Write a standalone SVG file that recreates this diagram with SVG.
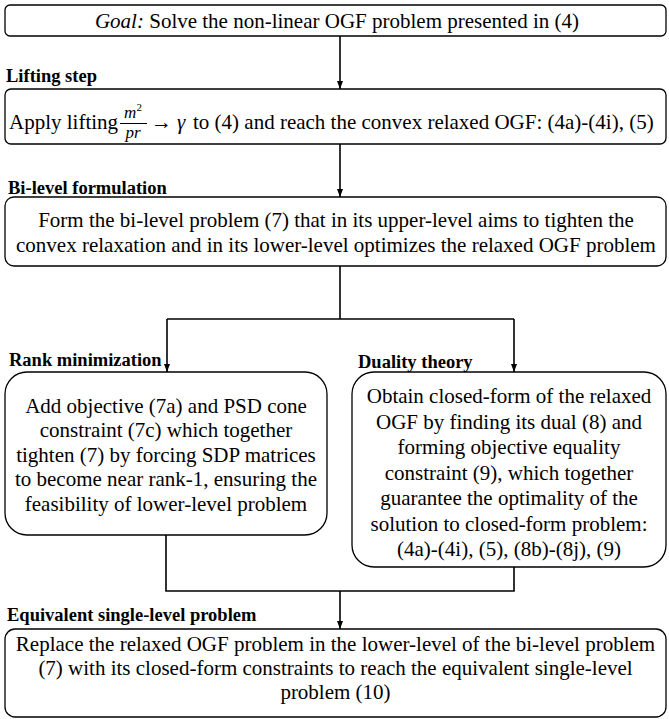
<svg xmlns="http://www.w3.org/2000/svg" width="669" height="719" viewBox="0 0 669 719">
<defs>
<style>
.box{fill:#fff;stroke:#000;stroke-width:1.3}
.t{font-family:"Liberation Serif","Times New Roman",serif;font-size:21px;fill:#000}
.c{text-anchor:middle}
.lbl{font-family:"Liberation Serif","Times New Roman",serif;font-size:18.5px;font-weight:bold;fill:#000}
.m{font-family:"Liberation Serif","DejaVu Serif",serif;font-style:italic;fill:#000}
.con{fill:none;stroke:#000;stroke-width:1.6}
</style>
<marker id="ah" markerUnits="userSpaceOnUse" markerWidth="8" markerHeight="8" refX="8" refY="3" orient="auto">
<path d="M0,0 L8,3 L0,6 z" fill="#000"/>
</marker>
</defs>
<rect width="669" height="719" fill="#fff"/>
<g id="connectors">
<line class="con" x1="340" y1="36" x2="340" y2="89" marker-end="url(#ah)"/>
<line class="con" x1="340" y1="144" x2="340" y2="197" marker-end="url(#ah)"/>
<polyline class="con" points="340,266 340,319"/>
<polyline class="con" points="167,319 514,319"/>
<line class="con" x1="167" y1="319" x2="167" y2="372" marker-end="url(#ah)"/>
<line class="con" x1="514" y1="319" x2="514" y2="372" marker-end="url(#ah)"/>
<polyline class="con" points="166,535 166,591 514,591 514,567"/>
<line class="con" x1="340" y1="591" x2="340" y2="629" marker-end="url(#ah)"/>
</g>
<g id="goal">
<rect class="box" x="5" y="5" width="661" height="31" rx="5"/>
<text class="t c" x="337" y="28"><tspan font-style="italic">Goal:</tspan> Solve the non-linear OGF problem presented in (4)</text>
</g>
<g id="lifting">
<text class="lbl" x="6" y="82">Lifting step</text>
<rect class="box" x="5" y="89" width="661" height="55" rx="6"/>
<text class="t" x="9" y="129">Apply lifting</text>
<text class="m" x="133" y="118" font-size="17" text-anchor="middle">m<tspan font-size="11" dy="-7" font-style="normal">2</tspan></text>
<line x1="120" y1="123.5" x2="147" y2="123.5" stroke="#000" stroke-width="1"/>
<text class="m" x="133" y="138" font-size="17" text-anchor="middle">pr</text>
<text class="t" x="151" y="129">→</text>
<text class="t" x="177" y="129" font-style="italic">γ</text>
<text class="t" x="193" y="129" font-size="21.3">to (4) and reach the convex relaxed OGF: (4a)-(4i), (5)</text>
</g>
<g id="bilevel">
<text class="lbl" x="8" y="194">Bi-level formulation</text>
<rect class="box" x="5" y="197" width="661" height="69" rx="9"/>
<text class="t c" x="336" y="227">Form the bi-level problem (7) that in its upper-level aims to tighten the</text>
<text class="t c" x="336" y="252">convex relaxation and in its lower-level optimizes the relaxed OGF problem</text>
</g>
<g id="rank">
<text class="lbl" x="9" y="366">Rank minimization</text>
<rect class="box" x="5" y="372" width="322" height="163" rx="22"/>
<text class="t c" x="166" y="412.5">Add objective (7a) and PSD cone</text>
<text class="t c" x="166" y="437">constraint (7c) which together</text>
<text class="t c" x="166" y="461.5">tighten (7) by forcing SDP matrices</text>
<text class="t c" x="166" y="486">to become near rank-1, ensuring the</text>
<text class="t c" x="166" y="510.5">feasibility of lower-level problem</text>
</g>
<g id="duality">
<text class="lbl" x="358" y="368">Duality theory</text>
<rect class="box" x="352" y="372" width="314" height="195" rx="22"/>
<text class="t c" x="509" y="403">Obtain closed-form of the relaxed</text>
<text class="t c" x="509" y="428.5">OGF by finding its dual (8) and</text>
<text class="t c" x="509" y="454">forming objective equality</text>
<text class="t c" x="509" y="479.5">constraint (9), which together</text>
<text class="t c" x="509" y="505">guarantee the optimality of the</text>
<text class="t c" x="509" y="530.5">solution to closed-form problem:</text>
<text class="t c" x="509" y="556">(4a)-(4i), (5), (8b)-(8j), (9)</text>
</g>
<g id="single">
<text class="lbl" x="7" y="621">Equivalent single-level problem</text>
<rect class="box" x="5" y="629" width="661" height="88" rx="10"/>
<text class="t c" x="335.5" y="651" font-size="21.3">Replace the relaxed OGF problem in the lower-level of the bi-level problem</text>
<text class="t c" x="335.5" y="675" font-size="21.3">(7) with its closed-form constraints to reach the equivalent single-level</text>
<text class="t c" x="335.5" y="699" font-size="21.3">problem (10)</text>
</g>
</svg>
